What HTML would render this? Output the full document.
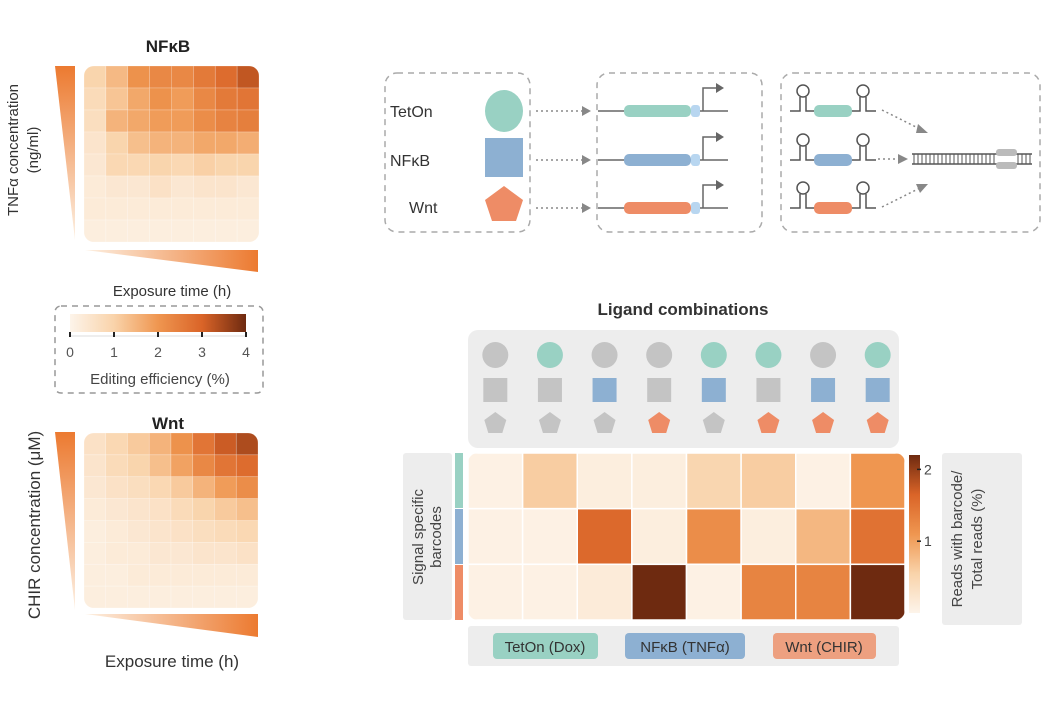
<!DOCTYPE html>
<html><head><meta charset="utf-8"><style>
html,body{margin:0;padding:0;background:#fff}
svg{display:block;font-family:"Liberation Sans",Arial,sans-serif}
</style></head><body>
<svg id="fig" width="1050" height="718" viewBox="0 0 1050 718" xmlns="http://www.w3.org/2000/svg">
<defs>
<linearGradient id="cbarG" x1="0" x2="1" y1="0" y2="0">
<stop offset="0" stop-color="#fdf4ea"/><stop offset="0.25" stop-color="#f9d3aa"/><stop offset="0.5" stop-color="#ef9650"/><stop offset="0.75" stop-color="#da6428"/><stop offset="1" stop-color="#6e2a10"/></linearGradient>
<linearGradient id="cbarV" x1="0" x2="0" y1="1" y2="0">
<stop offset="0" stop-color="#fdf4ea"/><stop offset="0.25" stop-color="#f9d3aa"/><stop offset="0.5" stop-color="#ef9650"/><stop offset="0.75" stop-color="#da6428"/><stop offset="1" stop-color="#6e2a10"/></linearGradient>
<linearGradient id="wedgeV" x1="0" x2="0" y1="0" y2="1"><stop offset="0" stop-color="#ec7a30"/><stop offset="1" stop-color="#fdf0e2"/></linearGradient>
<linearGradient id="wedgeH" x1="0" x2="1" y1="0" y2="0"><stop offset="0" stop-color="#fdf0e2"/><stop offset="1" stop-color="#ec7a30"/></linearGradient>
<clipPath id="clipA"><rect x="84" y="66" width="175" height="176" rx="10"/></clipPath>
<clipPath id="clipB"><rect x="84" y="433" width="174" height="175" rx="10"/></clipPath>
<clipPath id="clipC"><rect x="468" y="453" width="437" height="167" rx="10"/></clipPath>
</defs>

<text x="168" y="52" font-size="17" font-weight="bold" text-anchor="middle" fill="#222">NFκB</text>
<polygon points="55,66 75,66 75,240" fill="url(#wedgeV)"/>
<polygon points="85,250 258,250 258,272" fill="url(#wedgeH)"/>
<text transform="translate(18,150) rotate(-90)" font-size="15" text-anchor="middle" fill="#333">TNFα concentration</text>
<text transform="translate(38,150) rotate(-90)" font-size="15" text-anchor="middle" fill="#333">(ng/ml)</text>
<text x="172" y="296" font-size="15" text-anchor="middle" fill="#333">Exposure time (h)</text>
<g id="heatA" clip-path="url(#clipA)"></g>

<rect x="55" y="306" width="208" height="87" rx="6" fill="none" stroke="#999" stroke-width="1.5" stroke-dasharray="6,5"/>
<rect x="70" y="314" width="176" height="18" fill="url(#cbarG)"/>
<g id="cbarTicks"></g>
<text x="160" y="384" font-size="15" text-anchor="middle" fill="#444">Editing efficiency (%)</text>

<text x="168" y="429" font-size="17" font-weight="bold" text-anchor="middle" fill="#222">Wnt</text>
<polygon points="55,432 75,432 75,610" fill="url(#wedgeV)"/>
<polygon points="85,614 258,614 258,637" fill="url(#wedgeH)"/>
<text transform="translate(40,525) rotate(-90)" font-size="17" text-anchor="middle" fill="#333">CHIR concentration (μM)</text>
<text x="172" y="667" font-size="17" text-anchor="middle" fill="#333">Exposure time (h)</text>
<g id="heatB" clip-path="url(#clipB)"></g>

<g stroke-dasharray="6,5">
<rect x="385" y="73" width="145" height="159" rx="12" fill="none" stroke="#aaa" stroke-width="1.5"/>
<rect x="597" y="73" width="165" height="159" rx="12" fill="none" stroke="#aaa" stroke-width="1.5"/>
<rect x="781" y="73" width="259" height="159" rx="12" fill="none" stroke="#aaa" stroke-width="1.5"/>
</g>
<g font-size="16" fill="#333">
<text x="390" y="117">TetOn</text>
<text x="390" y="166">NFκB</text>
<text x="409" y="213">Wnt</text>
</g>
<ellipse cx="504" cy="111" rx="19" ry="21" fill="#99d1c3"/>
<rect x="485" y="138" width="38" height="39" fill="#8db0d2"/>
<polygon points="504,186 523,200 516,221 492,221 485,200" fill="#ee8c66"/>
<g id="schem"></g>

<text x="683" y="315" font-size="17" font-weight="bold" text-anchor="middle" fill="#333">Ligand combinations</text>
<rect x="468" y="330" width="431" height="118" rx="10" fill="#ededed"/>
<g id="ligands"></g>

<rect x="403" y="453" width="49" height="167" rx="3" fill="#ededed"/>
<text transform="translate(423,537) rotate(-90)" font-size="15" text-anchor="middle" fill="#444">Signal specific</text>
<text transform="translate(441,537) rotate(-90)" font-size="15" text-anchor="middle" fill="#444">barcodes</text>
<rect x="455" y="453" width="8" height="55" fill="#99d1c3"/>
<rect x="455" y="509" width="8" height="55" fill="#8db0d2"/>
<rect x="455" y="565" width="8" height="55" fill="#ee8c66"/>
<g id="heatC" clip-path="url(#clipC)"></g>
<rect x="909" y="455" width="11" height="158" fill="url(#cbarV)"/>
<g id="cbar2Ticks"></g>
<rect x="942" y="453" width="80" height="172" rx="3" fill="#ededed"/>
<text transform="translate(962,539) rotate(-90)" font-size="15" text-anchor="middle" fill="#444">Reads with barcode/</text>
<text transform="translate(982,539) rotate(-90)" font-size="15" text-anchor="middle" fill="#444">Total reads (%)</text>

<rect x="468" y="626" width="431" height="40" rx="3" fill="#ededed"/>
<rect x="493" y="633" width="105" height="26" rx="4" fill="#99d1c3"/>
<text x="545" y="652" font-size="15" text-anchor="middle" fill="#333">TetOn (Dox)</text>
<rect x="625" y="633" width="120" height="26" rx="4" fill="#8db0d2"/>
<text x="685" y="652" font-size="15" text-anchor="middle" fill="#333">NFκB (TNFα)</text>
<rect x="773" y="633" width="103" height="26" rx="4" fill="#eda080"/>
<text x="824" y="652" font-size="15" text-anchor="middle" fill="#333">Wnt (CHIR)</text>
</svg>
<script>
const nfkbValues = [
 [1.0,1.5,2.2,2.4,2.4,2.7,3.0,3.4],
 [0.8,1.3,1.8,2.2,2.0,2.4,2.7,2.8],
 [0.7,1.6,1.8,2.0,2.0,2.3,2.5,2.6],
 [0.5,1.0,1.4,1.6,1.6,1.8,1.8,1.7],
 [0.4,0.9,0.9,1.0,0.9,1.1,1.0,1.0],
 [0.3,0.4,0.4,0.6,0.4,0.5,0.5,0.4],
 [0.3,0.3,0.3,0.3,0.3,0.3,0.3,0.3],
 [0.2,0.2,0.2,0.2,0.2,0.2,0.2,0.2]];
const wntValues = [
 [0.6,0.9,1.2,1.6,2.2,2.8,3.3,3.6],
 [0.5,0.8,1.0,1.4,1.9,2.4,2.8,3.0],
 [0.4,0.6,0.7,0.9,1.2,1.6,2.0,2.3],
 [0.3,0.4,0.5,0.6,0.8,1.0,1.2,1.4],
 [0.2,0.3,0.4,0.5,0.6,0.7,0.8,0.9],
 [0.2,0.3,0.3,0.4,0.4,0.5,0.5,0.6],
 [0.2,0.2,0.3,0.3,0.3,0.3,0.3,0.3],
 [0.2,0.2,0.2,0.2,0.2,0.2,0.2,0.2]];
const editTicks = [0,1,2,3,4];
const barcodeRows = ["TetOn","NFkB","Wnt"];
const comboTetOn = [0,1,0,0,1,1,0,1];
const comboNFkB  = [0,0,1,0,1,0,1,1];
const comboWnt   = [0,0,0,1,0,1,1,1];
const readsTetOn = [0.05,0.6,0.1,0.1,0.5,0.6,0.05,1.1];
const readsNFkB  = [0.05,0.05,1.6,0.1,1.2,0.1,0.8,1.5];
const readsWnt   = [0.05,0.05,0.15,2.2,0.05,1.3,1.3,2.2];
const readsTicks = [1,2];
const readsMax = 2.2;

const NS="http://www.w3.org/2000/svg";
function mk(tag,attrs,parent){const e=document.createElementNS(NS,tag);for(const k in attrs)e.setAttribute(k,attrs[k]);parent.appendChild(e);return e;}
const stops=[[0,[253,244,234]],[1,[249,211,170]],[2,[239,150,80]],[3,[218,100,40]],[4,[110,42,16]]];
function color(v){v=Math.max(0,Math.min(4,v));let i=Math.min(3,Math.floor(v));const t=v-i;const a=stops[i][1],b=stops[i+1][1];return `rgb(${a.map((c,j)=>Math.round(c+(b[j]-c)*t)).join(",")})`;}

function heat(gid,vals,x0,y0,w,h,scale){
 const g=document.getElementById(gid);const rows=vals.length,cols=vals[0].length;
 const cw=w/cols,ch=h/rows;
 vals.forEach((row,r)=>row.forEach((v,c)=>{
  const e=mk('rect',{x:x0+c*cw,y:y0+r*ch,width:cw,height:ch,fill:color(scale(v)),stroke:'#fff','stroke-opacity':0.35,'stroke-width':0.6},g);
  
  
 }));
}
heat('heatA',nfkbValues,84,66,175,176,v=>v*0.95);
heat('heatB',wntValues,84,433,174,175,v=>v*0.95);
const gC=document.getElementById('heatC');
[readsTetOn,readsNFkB,readsWnt].forEach((row,r)=>row.forEach((v,c)=>{
 const cw=437/8,ch=167/3;
 const e=mk('rect',{x:468+c*cw,y:453+r*ch,width:cw,height:ch,fill:color(v/readsMax*4),stroke:'#fff','stroke-width':1.5},gC);
 
 
}));

const ct=document.getElementById('cbarTicks');
mk('line',{x1:70,x2:246,y1:336,y2:336,stroke:'#ddd'},ct);
editTicks.forEach(t=>{const x=70+t/4*176;
 mk('line',{x1:x,x2:x,y1:332,y2:337,stroke:'#222','stroke-width':2},ct);
 const tx=mk('text',{x:x,y:357,'font-size':14,'text-anchor':'middle',fill:'#555'},ct);tx.textContent=t;
 
 
});
const c2=document.getElementById('cbar2Ticks');
readsTicks.forEach(t=>{const y=613-t/readsMax*158;
 mk('line',{x1:917,x2:921,y1:y,y2:y,stroke:'#222','stroke-width':1.5},c2);
 const tx=mk('text',{x:924,y:y+5,'font-size':14,fill:'#444'},c2);tx.textContent=t;
 
 
});

const lg=document.getElementById('ligands');
for(let i=0;i<8;i++){const cx=468+437/8*(i+0.5);
 const c1=mk('circle',{cx:cx,cy:355,r:13,fill:comboTetOn[i]?'#99d1c3':'#c4c4c4'},lg);
 
 const s=mk('rect',{x:cx-12,y:378,width:24,height:24,fill:comboNFkB[i]?'#8db0d2':'#c4c4c4'},lg);
 
 const p=mk('polygon',{points:`${cx},412 ${cx+11},420 ${cx+7},433 ${cx-7},433 ${cx-11},420`,fill:comboWnt[i]?'#ee8c66':'#c4c4c4'},lg);
 
}

const sc=document.getElementById('schem');
const cols=['#99d1c3','#8db0d2','#ee8c66'];
[111,160,208].forEach((y,i)=>{
 mk('line',{x1:536,x2:582,y1:y,y2:y,stroke:'#888','stroke-width':1.5,'stroke-dasharray':'2,3'},sc);
 mk('polygon',{points:`582,${y-5} 591,${y} 582,${y+5}`,fill:'#888'},sc);
 mk('line',{x1:598,x2:728,y1:y,y2:y,stroke:'#666','stroke-width':1.5},sc);
 mk('rect',{x:624,y:y-6,width:67,height:12,rx:5,fill:cols[i]},sc);
 mk('rect',{x:691,y:y-6,width:9,height:12,rx:3,fill:'#b8d6f0'},sc);
 mk('polyline',{points:`703,${y} 703,${y-23} 718,${y-23}`,fill:'none',stroke:'#666','stroke-width':1.5},sc);
 mk('polygon',{points:`716,${y-28} 724,${y-23} 716,${y-18}`,fill:'#666'},sc);
 mk('polyline',{points:`790,${y} 800,${y} 800,${y-14}`,fill:'none',stroke:'#555','stroke-width':1.5},sc);
 mk('polyline',{points:`806,${y-14} 806,${y} 860,${y} 860,${y-14}`,fill:'none',stroke:'#555','stroke-width':1.5},sc);
 mk('polyline',{points:`866,${y-14} 866,${y} 876,${y}`,fill:'none',stroke:'#555','stroke-width':1.5},sc);
 mk('circle',{cx:803,cy:y-20,r:6,fill:'#fff',stroke:'#555','stroke-width':1.5},sc);
 mk('circle',{cx:863,cy:y-20,r:6,fill:'#fff',stroke:'#555','stroke-width':1.5},sc);
 mk('rect',{x:814,y:y-6,width:38,height:12,rx:5,fill:cols[i]},sc);
});
mk('line',{x1:882,x2:922,y1:110,y2:130,stroke:'#888','stroke-width':1.5,'stroke-dasharray':'2,3'},sc);
mk('polygon',{points:`918,124 928,133 916,133`,fill:'#888'},sc);
mk('line',{x1:878,x2:900,y1:159,y2:159,stroke:'#888','stroke-width':1.5,'stroke-dasharray':'2,3'},sc);
mk('polygon',{points:`898,154 908,159 898,164`,fill:'#888'},sc);
mk('line',{x1:882,x2:922,y1:207,y2:187,stroke:'#888','stroke-width':1.5,'stroke-dasharray':'2,3'},sc);
mk('polygon',{points:`916,184 928,184 920,193`,fill:'#888'},sc);
mk('line',{x1:912,x2:1032,y1:154,y2:154,stroke:'#555','stroke-width':1.5},sc);
mk('line',{x1:912,x2:1032,y1:164,y2:164,stroke:'#555','stroke-width':1.5},sc);
for(let x=914;x<1032;x+=4){if(x>995&&x<1017)continue;mk('line',{x1:x,x2:x,y1:154,y2:164,stroke:'#555','stroke-width':1},sc);}
mk('rect',{x:996,y:149,width:21,height:7,rx:3,fill:'#bbb'},sc);
mk('rect',{x:996,y:162,width:21,height:7,rx:3,fill:'#bbb'},sc);
</script>
</body></html>
